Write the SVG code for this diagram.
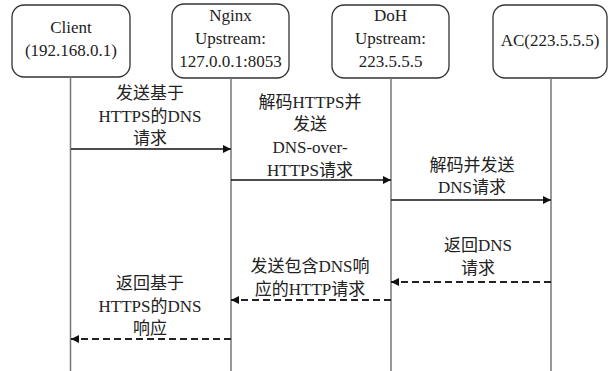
<svg xmlns="http://www.w3.org/2000/svg" width="613" height="371" viewBox="0 0 613 371">
<style>
.box{fill:#fff;stroke:#333;stroke-width:1.3}
.life{stroke:#777;stroke-width:1.5}
.t{font-family:"Liberation Serif","Noto Sans CJK SC",serif;font-size:17px;fill:#222;text-anchor:middle}
.msg{stroke:#111;stroke-width:1.4;fill:none}
.ret{stroke:#222;stroke-width:2;stroke-dasharray:7,4;fill:none}
</style>
<defs>
<marker id="ah" viewBox="0 0 10 10" refX="10" refY="5" markerWidth="10" markerHeight="8" markerUnits="userSpaceOnUse" orient="auto">
<path d="M0,0 L10,5 L0,10 Z" fill="#111"/>
</marker>
</defs>
<g id="client">
<rect class="box" x="12" y="5" width="118" height="72" rx="12"/>
<line class="life" x1="70.5" y1="77" x2="70.5" y2="371"/>
<text class="t" x="71" y="33">Client</text>
<text class="t" x="71" y="56">(192.168.0.1)</text>
</g>
<g id="nginx">
<rect class="box" x="172" y="4" width="117" height="74" rx="12"/>
<line class="life" x1="231" y1="78" x2="231" y2="371"/>
<text class="t" x="230.5" y="21">Nginx</text>
<text class="t" x="230.5" y="44">Upstream:</text>
<text class="t" x="230.5" y="67">127.0.0.1:8053</text>
</g>
<g id="doh">
<rect class="box" x="332" y="5" width="117" height="73" rx="12"/>
<line class="life" x1="391" y1="78" x2="391" y2="371"/>
<text class="t" x="390.5" y="21">DoH</text>
<text class="t" x="390.5" y="44">Upstream:</text>
<text class="t" x="390.5" y="67">223.5.5.5</text>
</g>
<g id="ac">
<rect class="box" x="493" y="5" width="114" height="73" rx="12"/>
<line class="life" x1="551" y1="78" x2="551" y2="371"/>
<text class="t" x="550" y="46">AC(223.5.5.5)</text>
</g>
<g id="connectors">
<line class="msg" x1="71" y1="149" x2="231" y2="149" marker-end="url(#ah)"/>
<line class="msg" x1="231" y1="180" x2="391" y2="180" marker-end="url(#ah)"/>
<line class="msg" x1="391" y1="200" x2="551" y2="200" marker-end="url(#ah)"/>
<line class="ret" x1="551" y1="282" x2="391" y2="282" marker-end="url(#ah)"/>
<line class="ret" x1="391" y1="300" x2="231" y2="300" marker-end="url(#ah)"/>
<line class="ret" x1="231" y1="339" x2="71" y2="339" marker-end="url(#ah)"/>
</g>
<g id="labels">
<text class="t" x="150" y="99">发送基于</text>
<text class="t" x="150" y="122">HTTPS的DNS</text>
<text class="t" x="150" y="144">请求</text>
<text class="t" x="310" y="108">解码HTTPS并</text>
<text class="t" x="310" y="130">发送</text>
<text class="t" x="310" y="153">DNS-over-</text>
<text class="t" x="310" y="176">HTTPS请求</text>
<text class="t" x="472" y="171">解码并发送</text>
<text class="t" x="472" y="193">DNS请求</text>
<text class="t" x="478" y="251">返回DNS</text>
<text class="t" x="478" y="274">请求</text>
<text class="t" x="310" y="272">发送包含DNS响</text>
<text class="t" x="310" y="295">应的HTTP请求</text>
<text class="t" x="150" y="289">返回基于</text>
<text class="t" x="150" y="312">HTTPS的DNS</text>
<text class="t" x="150" y="334">响应</text>
</g>
</svg>
